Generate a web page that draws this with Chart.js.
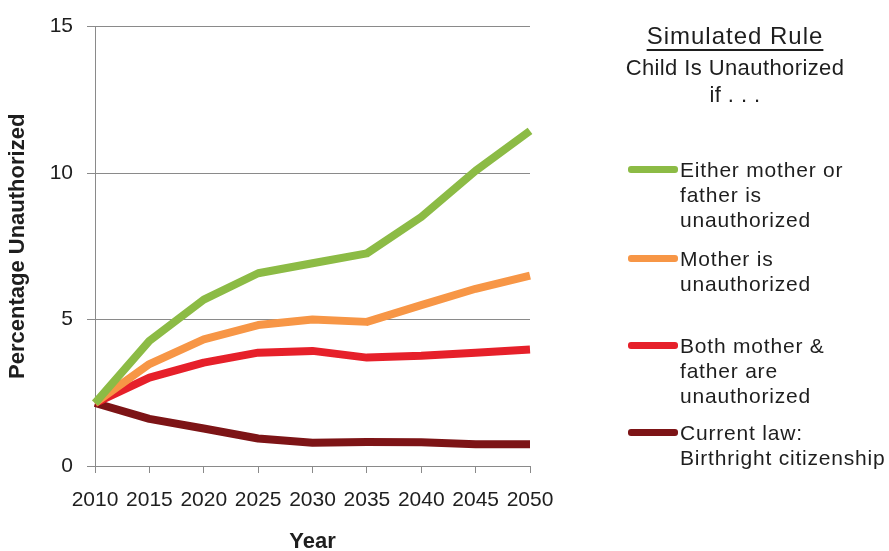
<!DOCTYPE html>
<html>
<head>
<meta charset="utf-8">
<script src="https://cdn.jsdelivr.net/npm/chart.js@4/dist/chart.umd.min.js"></script>
<style>
    html, body { margin: 0; padding: 0; background: #fff; }
    #wrap { position: relative; width: 889px; height: 551px; font-family: 'Liberation Sans', Arial, sans-serif; color: #1e1e1e; }
    #chart { position: absolute; left: 0; top: 0; }
    .ttl { position: absolute; left: 600px; width: 270px; text-align: center; white-space: nowrap; }
    .item-text { position: absolute; left: 680px; font-size: 21px; line-height: 25px; letter-spacing: 0.8px; white-space: nowrap; }
    .swatch { position: absolute; left: 628px; width: 50px; height: 7px; border-radius: 3px; }
</style>
</head>
<body>
<div id="wrap">
    <canvas id="chart" width="889" height="551"></canvas>
    <div class="ttl" style="top:22px; font-size:24px; line-height:28px; letter-spacing:1px; text-decoration:underline; text-underline-offset:5px; text-decoration-thickness:2px;">Simulated Rule</div>
    <div class="ttl" style="top:54px; font-size:22px; line-height:27px; letter-spacing:0.4px;">Child Is Unauthorized<br>if . . .</div>
    <div id="legend"></div>
</div>
<script>
// Chart data
const years = ['2010', '2015', '2020', '2025', '2030', '2035', '2040', '2045', '2050'];
const eitherParent = [2.15, 4.27, 5.68, 6.58, 6.92, 7.26, 8.5, 10.08, 11.44];
const motherOnly = [2.15, 3.48, 4.32, 4.81, 5.0, 4.92, 5.49, 6.05, 6.5];
const bothParents = [2.15, 3.02, 3.53, 3.87, 3.93, 3.7, 3.76, 3.87, 3.98];
const currentLaw = [2.15, 1.61, 1.28, 0.94, 0.79, 0.82, 0.81, 0.74, 0.74];
const yTicks = [0, 5, 10, 15];
const seriesLabels = [
    ['Either mother or', 'father is', 'unauthorized'],
    ['Mother is', 'unauthorized'],
    ['Both mother &', 'father are', 'unauthorized'],
    ['Current law:', 'Birthright citizenship']
];
const seriesColors = ['#8cbb45', '#f79646', '#e6202a', '#7d1416'];

document.addEventListener('DOMContentLoaded', function() {
    const chart = buildChart();
    buildLegend(chart);
});

function buildChart() {
    const ctx = document.getElementById('chart');
    const seriesData = [eitherParent, motherOnly, bothParents, currentLaw];
    const font = { family: "'Liberation Sans', Arial, sans-serif", size: 21 };
    const gridColor = '#8a8a8a';

    return new Chart(ctx, {
        type: 'line',
        data: {
            labels: years,
            datasets: seriesData.map((data, i) => ({
                label: seriesLabels[i].join(' '),
                data: data,
                borderColor: seriesColors[i],
                backgroundColor: seriesColors[i],
                borderWidth: 8,
                borderJoinStyle: 'round',
                pointRadius: 0,
                tension: 0,
                order: i
            }))
        },
        options: {
            responsive: false,
            animation: false,
            layout: { padding: { top: 22, right: 359, left: 0, bottom: 0 } },
            plugins: { legend: { display: false }, tooltip: { enabled: false } },
            scales: {
                x: {
                    offset: false,
                    grid: { drawOnChartArea: false, drawTicks: true, tickLength: 7, color: gridColor },
                    border: { color: gridColor, width: 1 },
                    ticks: { color: '#1e1e1e', font: font, padding: 15, maxRotation: 0, autoSkip: false },
                    title: {
                        display: true, text: 'Year', color: '#1e1e1e',
                        font: { family: font.family, size: 22, weight: 'bold', lineHeight: 1 },
                        padding: { top: 0, bottom: -2 }
                    },
                    afterFit: function(scale) { scale.height = 85; }
                },
                y: {
                    min: 0,
                    max: 15,
                    afterBuildTicks: function(scale) { scale.ticks = yTicks.map(v => ({ value: v })); },
                    grid: { color: gridColor, lineWidth: 1, tickLength: 8 },
                    border: { color: gridColor, width: 1 },
                    ticks: { color: '#1e1e1e', font: font, padding: 14 },
                    title: {
                        display: true, text: 'Percentage Unauthorized', color: '#1e1e1e',
                        font: { family: font.family, size: 22, weight: 'bold' },
                        padding: { top: 5, bottom: 4 }
                    },
                    afterFit: function(scale) { scale.width = 95; }
                }
            }
        }
    });
}

function buildLegend(chart) {
    const legend = document.getElementById('legend');
    const itemTops = [157, 246, 333, 420];
    chart.data.datasets.forEach((ds, i) => {
        const swatch = document.createElement('div');
        swatch.className = 'swatch';
        swatch.style.top = (itemTops[i] + 9) + 'px';
        swatch.style.background = ds.borderColor;
        legend.appendChild(swatch);

        const text = document.createElement('div');
        text.className = 'item-text';
        text.style.top = itemTops[i] + 'px';
        text.innerHTML = seriesLabels[i].join('<br>');
        legend.appendChild(text);
    });
}
</script>
</body>
</html>
